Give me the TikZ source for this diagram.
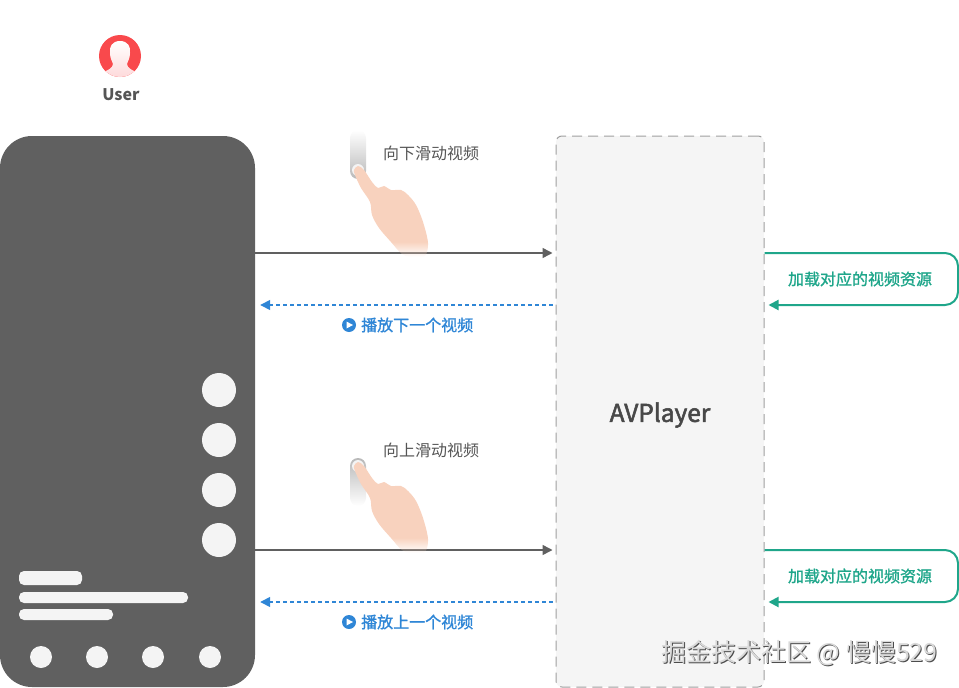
\documentclass[tikz,border=0pt]{standalone}
\usepackage{fontspec}
\setmainfont{Noto Sans CJK SC}
\newfontfamily\midfont[FakeBold=1.2]{Noto Sans CJK SC}
\newfontfamily\namefont[FakeBold=2.2]{Noto Sans CJK SC}
\usetikzlibrary{positioning,shapes,arrows.meta,fadings}
\definecolor{phonegray}{HTML}{606060}
\definecolor{panelgray}{HTML}{F5F5F5}
\definecolor{dotwhite}{HTML}{F4F4F4}
\definecolor{playblue}{HTML}{2F86D6}
\definecolor{loadgreen}{HTML}{1FA68A}
\definecolor{textgray}{HTML}{555555}
\definecolor{userred}{HTML}{F9494C}
\definecolor{handpeach}{HTML}{F8D2BE}
\pgfdeclareverticalshading{handmask}{100bp}{color(0bp)=(black); color(26bp)=(black); color(34bp)=(white); color(100bp)=(white)}
\pgfdeclarefading{handfading}{\pgfuseshading{handmask}}
\pgfdeclareverticalshading{userfade}{100bp}{color(0bp)=(userred!22!white); color(25bp)=(userred!22!white); color(75bp)=(white); color(100bp)=(white)}
\tikzset{
  phonebox/.style={fill=phonegray, rounded corners=32pt, minimum width=255pt, minimum height=551pt, inner sep=0pt},
  playerbox/.style={draw=gray!75, fill=panelgray, line width=1pt, dash pattern=on 10pt off 6pt, rounded corners=6pt, minimum width=208pt, minimum height=551pt, inner sep=0pt},
  sidedot/.style={circle, fill=dotwhite, minimum size=34pt, inner sep=0pt},
  navdot/.style={circle, fill=dotwhite, minimum size=22pt, inner sep=0pt},
  textbar/.style={fill=dotwhite, rounded corners=5pt, inner sep=0pt, minimum height=11pt},
  swipelabel/.style={text=textgray, font=\fontsize{16}{18}\selectfont, inner sep=0pt},
  playlabel/.style={text=playblue, font=\midfont\fontsize{16}{18}\selectfont, inner sep=0pt},
  loadlabel/.style={text=loadgreen, font=\midfont\fontsize{16}{18}\selectfont, inner sep=0pt},
  swipeline/.style={draw=phonegray, line width=1.5pt, -{Triangle[length=10pt,width=10pt]}, shorten >=3pt},
  playline/.style={draw=playblue, line width=1.5pt, dash pattern=on 4pt off 3pt, -{Triangle[length=10pt,width=10pt]}, shorten >=5pt, shorten <=3pt},
  loadline/.style={draw=loadgreen, line width=2pt, rounded corners=13pt, -{Triangle[length=10pt,width=10pt]}, shorten >=4pt},
  markmain/.style={text=gray!30, font=\fontsize{25}{28}\selectfont, inner sep=0pt},
  markshade/.style={text=black!70, font=\fontsize{25}{28}\selectfont, inner sep=0pt},
  pics/fingerhand/.style={code={
    \fill[handpeach, path fading=handfading] plot[smooth cycle, tension=0.55] coordinates {
      (-3,5) (3,18) (12,32) (14,45) (21,58) (33,72) (44,84) (56,88) (67,86) (70,73)
      (65,52) (58,35) (50,25) (43,20) (33,20) (26,16) (20,18) (14,12) (6,0) (0,-4) (-4,0)};
  }},
}
\begin{document}
\begin{tikzpicture}[x=1pt, y=-1pt]
  \useasboundingbox (0,0) rectangle (959,688);
  %.
  % user
  \fill[userred] (120,56) circle (21);
  \begin{scope}
    \clip (120,56) circle (21);
    \shade[shading=userfade] (120,41) .. controls (112,41) and (109,47) .. (110,53)
      .. controls (110,58) and (112,61) .. (113,64) .. controls (113,68) and (108,70) .. (100,74)
      -- (100,80) -- (140,80) -- (140,74)
      .. controls (132,70) and (127,68) .. (127,64) .. controls (128,61) and (130,58) .. (130,53)
      .. controls (131,47) and (128,41) .. (120,41) -- cycle;
  \end{scope}
  \node[text=textgray, font=\bfseries\fontsize{16}{18}\selectfont, inner sep=0pt] (user) at (121,95) {User};
  %.
  % phone
  \node[phonebox] (phone) at (127.5,411.5) {};
  \foreach \y/\name in {390/a,440/b,490/c,540/d}
    \node[sidedot] (side\name) at (219,\y) {};
  \node[textbar, minimum width=63pt, minimum height=14pt] (bara) at (50.5,578) {};
  \node[textbar, minimum width=169pt] (barb) at (103.5,597.5) {};
  \node[textbar, minimum width=94pt] (barc) at (66,614.5) {};
  \foreach \x/\name in {41/a,97/b,153/c,210/d}
    \node[navdot] (nav\name) at (\x,657) {};
  %.
  % player
  \node[playerbox] (player) at (660,411.5) {};
  \node[font=\namefont\fontsize{24.5}{28}\selectfont, text=textgray!85!black, inner sep=0pt] (playername) at (660,415) {AVPlayer};
  %.
  % connectors
  \coordinate (swipedown) at (0,253);
  \coordinate (playnext) at (0,305);
  \coordinate (swipeup) at (0,550);
  \coordinate (playprev) at (0,602);
  \coordinate (loadnexta) at (958,253);
  \coordinate (loadnextb) at (958,305);
  \coordinate (loadpreva) at (958,550);
  \coordinate (loadprevb) at (958,602);
  \draw[swipeline] (phone.east |- swipedown) -- (player.west |- swipedown);
  \draw[playline] (player.west |- playnext) -- (phone.east |- playnext);
  \draw[swipeline] (phone.east |- swipeup) -- (player.west |- swipeup);
  \draw[playline] (player.west |- playprev) -- (phone.east |- playprev);
  \draw[loadline] (player.east |- loadnexta) -- (loadnexta) -- (loadnextb) -- (player.east |- loadnextb);
  \draw[loadline] (player.east |- loadpreva) -- (loadpreva) -- (loadprevb) -- (player.east |- loadprevb);
  %.
  % swipe down
  \shade[top color=white, bottom color=gray!55, rounded corners=8pt] (350,130) rectangle (366,179);
  \fill[dotwhite] (358,170) circle (6);
  \pic at (358,170) {fingerhand};
  \node[swipelabel, anchor=west] (swipedownlabel) at (383,153) {向下滑动视频};
  %.
  % swipe up
  \shade[top color=gray!55, bottom color=white, rounded corners=8pt] (350,458) rectangle (366,506);
  \fill[dotwhite] (358,466) circle (6);
  \pic at (358,466) {fingerhand};
  \node[swipelabel, anchor=west] (swipeuplabel) at (383,450) {向上滑动视频};
  %.
  % labels
  \foreach \y/\name/\word in {325/next/下,622/prev/上}{
    \fill[playblue] (349,\y) circle (7);
    \fill[white] (346.5,\y-3.5) -- (353,\y) -- (346.5,\y+3.5) -- cycle;
    \node[playlabel, anchor=west] (play\name) at (361,\y) {播放\word 一个视频};
  }
  \node[loadlabel] (loadnext) at (860,279) {加载对应的视频资源};
  \node[loadlabel] (loadprev) at (860,576) {加载对应的视频资源};
  %.
  % watermark
  \node[markshade, anchor=west] (markback) at (662,654) {掘金技术社区 @ 慢慢529};
  \node[markmain, anchor=west] (markfront) at (661,653) {掘金技术社区 @ 慢慢529};
  %.
\end{tikzpicture}
\end{document}
